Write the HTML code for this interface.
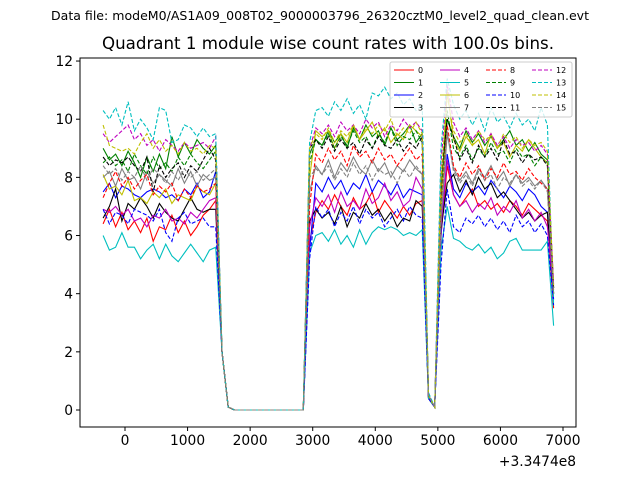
<!DOCTYPE html>
<html><head><meta charset="utf-8"><style>
body{margin:0;background:#fff;font-family:"Liberation Sans","DejaVu Sans",sans-serif}
svg text{font-family:"DejaVu Sans","Liberation Sans",sans-serif}
</style></head><body>
<svg id="chart" width="640" height="480" viewBox="0 0 640 480" xmlns="http://www.w3.org/2000/svg">
<rect width="640" height="480" fill="#fff"/>
<text x="320" y="20" text-anchor="middle" font-size="12.5" textLength="538" lengthAdjust="spacingAndGlyphs">Data file: modeM0/AS1A09_008T02_9000003796_26320cztM0_level2_quad_clean.evt</text>
<text x="328" y="49" text-anchor="middle" font-size="16.5" textLength="452" lengthAdjust="spacingAndGlyphs">Quadrant 1 module wise count rates with 100.0s bins.</text>
<g id="plot"></g>
<g id="axes"></g>
<text x="576" y="466" text-anchor="end" font-size="13.8">+3.3474e8</text>
<g id="legend"></g>
</svg>
<script>
const times=[];for(let t=-350;t<=6850;t+=100)times.push(t);
const Z=[0,0,0,0,0,0,0,0,0,0,0,0];
const s0=[6.4,6.9,6.3,6.8,6.2,6.5,6.1,6.6,5.8,6.3,6.2,6.7,6.1,6.5,6.0,6.3,6.7,6.9,7.2,2.0,0.1,...Z,5.8,6.8,7.2,6.9,7.4,7.0,6.7,7.3,6.9,7.1,7.5,6.8,7.2,6.9,6.6,7.0,6.7,7.1,7.2,0.4,0.1,6.0,8.4,7.4,7.0,7.3,7.6,7.0,7.2,6.9,7.1,6.8,7.2,7.0,6.7,7.1,6.9,6.7,6.5,3.5];
const s1=[9.0,8.6,8.8,8.4,8.9,8.5,8.0,8.7,8.2,8.8,8.3,9.4,8.7,9.2,8.8,9.3,9.0,8.8,9.1,2.0,0.1,...Z,8.8,9.3,9.1,9.6,9.2,9.5,9.0,9.7,9.3,9.8,9.4,9.6,9.1,9.7,9.3,9.5,9.8,9.2,9.5,0.5,0.1,7.5,10.0,9.4,9.0,9.6,9.2,9.5,9.1,9.4,9.0,9.3,9.6,9.1,9.3,8.9,9.2,8.8,8.6,4.0];
const s2=[7.5,7.8,7.3,7.7,7.6,7.4,7.3,7.5,7.6,7.5,7.3,7.4,7.2,7.6,7.4,7.8,7.3,7.5,8.2,2.0,0.1,...Z,5.5,7.8,7.5,8.0,7.6,7.9,7.4,7.8,7.6,8.1,7.5,7.9,7.7,7.4,7.8,7.3,7.6,7.5,7.4,0.4,0.1,6.0,8.8,7.6,7.3,7.8,7.5,7.7,7.4,7.9,7.6,7.3,7.7,7.5,7.2,7.6,7.4,7.0,6.8,3.8];
const s3=[6.6,7.0,7.6,6.5,7.1,6.9,7.3,7.0,6.6,7.1,6.8,6.6,6.5,6.9,7.3,6.9,6.8,6.9,6.9,2.0,0.1,...Z,6.5,6.9,6.6,6.8,6.4,7.0,6.3,6.8,6.6,7.1,6.7,6.9,6.5,6.8,6.3,6.6,6.5,7.2,7.0,0.4,0.1,6.2,7.8,8.1,7.5,7.9,7.4,8.0,7.6,7.8,7.3,7.5,7.2,6.9,6.6,6.8,6.5,6.7,6.8,4.0];
const s4=[6.9,6.8,7.0,6.7,6.9,6.5,6.6,6.3,6.7,6.6,6.9,6.5,6.6,6.4,6.8,6.6,6.9,7.2,7.3,2.0,0.1,...Z,6.3,7.3,7.0,7.4,6.8,7.5,7.0,7.2,6.9,7.6,7.1,7.3,7.8,7.2,7.5,7.0,7.2,8.0,7.6,0.5,0.1,6.3,8.6,7.4,7.0,7.2,6.8,7.1,6.9,7.3,6.7,7.0,6.8,7.2,6.6,6.9,6.5,6.8,6.3,4.2];
const s5=[6.0,5.5,5.6,6.1,5.6,5.6,5.2,5.5,5.7,5.2,5.7,5.3,5.1,5.4,5.7,5.4,5.1,5.5,5.6,2.0,0.1,...Z,5.4,6.0,6.1,5.8,6.2,5.7,6.0,5.6,6.2,5.7,6.1,6.3,6.2,6.3,6.2,6.0,6.1,6.0,6.2,0.4,0.1,5.5,7.0,5.9,5.8,5.6,5.5,5.7,5.4,5.6,5.2,5.4,5.8,5.9,5.5,5.5,5.5,5.5,5.8,2.9];
const s6=[8.1,7.6,7.7,7.4,7.9,7.2,7.3,7.1,7.5,7.3,7.6,7.1,7.4,7.3,7.2,7.7,7.5,7.4,7.8,2.0,0.1,...Z,8.0,9.6,9.4,9.6,9.0,9.5,9.2,9.8,9.3,9.6,9.9,9.4,9.7,9.2,9.5,9.3,9.8,9.6,9.4,0.5,0.1,7.0,11.0,9.3,8.9,9.4,9.1,9.3,8.8,9.5,9.0,9.2,8.7,9.1,8.9,9.3,9.0,8.7,8.5,4.3];
const s7=[8.0,8.2,7.7,8.3,7.9,8.0,7.6,8.2,7.8,8.1,7.9,7.7,8.3,7.8,8.2,7.7,8.1,7.9,8.0,2.0,0.1,...Z,7.5,8.4,8.1,8.6,8.0,8.5,8.2,8.7,8.3,8.1,8.6,8.2,8.5,8.0,8.4,8.2,8.6,8.3,8.1,0.5,0.1,6.5,9.5,8.3,7.9,8.2,7.8,8.3,8.0,8.4,7.9,8.2,7.7,8.1,7.8,8.0,7.7,7.9,7.6,4.0];
const s8=[7.3,7.8,8.2,7.7,8.0,7.6,7.9,8.1,7.4,7.7,7.5,7.8,7.2,7.6,7.3,7.7,7.5,7.6,7.8,2.0,0.1,...Z,7.0,8.8,8.5,9.0,8.6,8.9,8.4,9.1,8.7,8.9,8.5,9.0,8.6,8.8,8.4,8.7,9.0,8.6,8.8,0.5,0.1,7.0,9.8,8.4,8.0,8.5,8.1,8.4,7.9,8.3,8.0,8.5,8.1,8.2,7.9,8.3,8.0,7.8,7.6,4.1];
const s9=[8.5,8.7,8.4,8.6,8.2,8.8,8.4,8.1,8.7,8.3,8.5,8.2,8.7,8.4,8.8,8.5,8.3,8.6,8.9,2.0,0.1,...Z,8.5,9.3,9.1,9.5,9.0,9.4,9.1,9.6,9.2,9.4,9.0,9.5,9.2,9.7,9.1,9.4,9.3,9.6,9.2,0.5,0.1,7.5,10.3,9.0,8.7,9.1,8.6,9.0,8.7,9.2,8.8,8.9,8.5,9.0,8.7,8.8,8.4,8.7,8.5,4.2];
const s10=[6.9,6.4,6.8,6.7,6.4,6.9,6.8,6.7,6.5,6.9,6.1,5.8,6.6,6.8,6.4,6.5,6.6,6.3,6.3,2.0,0.1,...Z,5.2,7.0,6.6,6.9,6.3,6.8,6.5,7.0,6.4,6.9,6.6,6.8,6.3,6.6,6.9,6.5,7.0,6.7,6.6,0.4,0.1,5.0,7.6,6.3,6.1,6.6,6.4,6.7,6.3,6.6,6.2,6.5,6.1,6.7,6.3,6.5,6.1,6.4,6.0,3.6];
const s11=[8.7,8.4,8.6,8.5,8.7,8.4,8.2,8.7,7.5,8.4,8.0,8.3,8.5,8.0,8.4,8.2,8.6,9.0,8.6,2.0,0.1,...Z,9.0,9.3,9.0,9.4,8.9,9.3,9.0,9.2,8.8,9.3,9.0,9.4,9.1,9.0,9.3,8.9,9.2,9.0,9.4,0.5,0.1,8.0,10.0,9.4,8.6,9.0,8.5,9.1,8.7,9.0,8.6,9.3,8.8,8.9,8.5,8.8,8.6,8.7,8.4,4.2];
const s12=[9.5,9.2,9.4,9.6,9.8,9.3,9.5,9.1,9.3,8.9,9.3,9.1,8.9,9.2,9.0,9.1,9.2,9.0,9.4,2.0,0.1,...Z,9.0,9.7,9.5,9.8,9.4,9.9,9.6,9.8,9.5,10.0,9.7,9.9,9.4,9.8,9.6,10.0,9.7,9.9,9.6,0.5,0.1,8.5,11.2,9.9,9.4,9.7,9.3,9.6,9.2,9.5,9.1,9.4,9.0,9.3,9.1,9.2,8.9,9.1,8.8,4.3];
const s13=[10.3,10.0,10.4,9.8,10.6,9.6,10.0,9.7,9.3,10.4,10.3,9.2,9.3,9.8,9.7,9.4,9.7,9.4,9.5,2.0,0.1,...Z,9.2,10.3,10.4,10.1,10.6,10.3,10.7,10.2,10.5,10.0,10.9,10.8,11.1,10.7,10.9,10.5,10.7,10.3,10.5,0.6,0.1,9.0,11.4,10.5,10.0,10.3,9.8,10.2,9.6,10.4,9.9,10.1,9.7,10.2,9.8,10.0,9.6,10.4,9.8,3.6];
const s14=[9.8,9.1,9.0,8.9,9.0,8.8,9.2,9.5,9.0,9.3,8.9,9.1,8.8,9.2,8.9,9.0,8.8,9.1,9.0,2.0,0.1,...Z,9.0,9.5,9.3,9.7,9.2,9.6,9.4,9.8,9.3,9.7,9.5,9.8,9.6,10.0,9.4,9.7,9.5,9.9,9.5,0.5,0.1,8.0,10.8,9.6,9.2,9.5,9.1,9.6,9.3,9.4,9.0,9.5,9.2,9.4,9.0,9.3,9.1,9.2,8.9,4.2];
const s15=[8.4,8.1,8.3,7.9,8.2,8.0,8.4,7.9,8.3,8.1,7.8,8.2,7.9,8.3,8.0,8.2,7.9,8.1,8.3,2.0,0.1,...Z,8.0,8.3,8.1,8.4,7.9,8.3,8.0,8.5,8.1,8.4,7.9,8.3,8.1,8.2,7.8,8.3,8.0,8.4,8.1,0.5,0.1,6.8,9.6,8.2,7.8,8.1,7.7,8.2,7.9,8.1,7.6,8.0,7.8,8.1,7.7,7.9,7.6,7.9,7.5,4.0];
const series=[s0,s1,s2,s3,s4,s5,s6,s7,s8,s9,s10,s11,s12,s13,s14,s15];
const labels=["0","1","2","3","4","5","6","7","8","9","10","11","12","13","14","15"];
const xTicks=[0,1000,2000,3000,4000,5000,6000,7000];
const yTicks=[0,2,4,6,8,10,12];
const colors=["red","green","blue","black","#bf00bf","#00bfbf","#bfbf00","gray"];
const L=80,R=576,T=58,B=427;
const xs=t=>125+t*0.062571;
const ys=v=>410-v*29.08;
const NS="http://www.w3.org/2000/svg";
function mk(tag,attrs,parent){const e=document.createElementNS(NS,tag);for(const k in attrs)e.setAttribute(k,attrs[k]);parent.appendChild(e);return e;}
const plot=document.getElementById('plot');
series.forEach((s,i)=>{
  const pts=s.map((v,j)=>xs(times[j]).toFixed(1)+','+ys(v).toFixed(1)).join(' ');
  const pl=mk('polyline',{points:pts,fill:'none',stroke:colors[i%8],'stroke-width':1.1,'stroke-dasharray':i>=8?'4,2':'none'},plot);
  
  
});
const axes=document.getElementById('axes');
const fr=mk('rect',{x:L,y:T,width:R-L,height:B-T,fill:'none',stroke:'#000','stroke-width':1},axes);


xTicks.forEach(t=>{const x=xs(t);mk('line',{x1:x,x2:x,y1:B,y2:B+4,stroke:'#000'},axes);
  const tx=mk('text',{x:x,y:B+18,'text-anchor':'middle','font-size':13.8},axes);tx.textContent=t;
  
  });
yTicks.forEach(v=>{const y=ys(v);mk('line',{x1:L-4,x2:L,y1:y,y2:y,stroke:'#000'},axes);
  const tx=mk('text',{x:L-7,y:y+5,'text-anchor':'end','font-size':13.8},axes);tx.textContent=v;
  
  });
const lg=document.getElementById('legend');
mk('rect',{x:390,y:62,width:182,height:55,fill:'#fff','fill-opacity':0.8,stroke:'#ccc',rx:2},lg);
labels.forEach((lb,i)=>{const col=Math.floor(i/4),row=i%4;const x=394+col*46,y=70+row*12.5;
  const ln=mk('line',{x1:x,x2:x+20,y1:y,y2:y,stroke:colors[i%8],'stroke-width':1,'stroke-dasharray':i>=8?'4,2':'none'},lg);
  
  
  const tx=mk('text',{x:x+24,y:y+3,'font-size':8},lg);tx.textContent=lb;
  
  });
</script>
</body></html>
